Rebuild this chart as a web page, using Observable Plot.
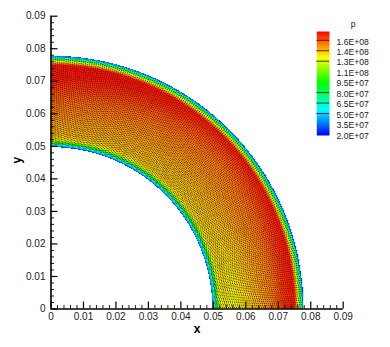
<!DOCTYPE html>
<html>
<head>
<meta charset="utf-8">
<script src="https://cdn.jsdelivr.net/npm/d3@7"></script>
<script src="https://cdn.jsdelivr.net/npm/@observablehq/plot@0.6"></script>
<style>
html,body{margin:0;padding:0;background:#fff}
#wrap{position:relative;width:390px;height:347px;overflow:hidden}
#wrap svg{position:absolute;left:0;top:0;background:transparent}
</style>
</head>
<body>
<div id="wrap"></div>
<script>
// Pressure field: one row per angle (degrees), one column per radius (MPa)
const radii = [0.0497,0.0503,0.0510,0.0518,0.0535,0.0560,0.0600,0.0640,0.0680,0.0720,0.0750,0.0760,0.0766,0.0772,0.0778];
const angles = [0,10,20,30,40,50,60,70,80,90];
const pressure = [
  [24,56,98,129,133,130,135,143,150,161,166,138,105,62,24],
  [24,56,98,131,136,134,139,145,151,162,166,138,105,62,24],
  [24,56,98,133,137,137,141,147,152,161,166,138,105,62,24],
  [24,56,98,133,138,140,143,148,152,159,166,138,105,62,24],
  [24,56,98,133,138,140,144,148,151,158,166,138,105,62,24],
  [24,56,98,133,139,141,145,149,153,160,166,138,105,62,24],
  [24,56,98,133,140,142,146,150,155,163,166,138,105,62,24],
  [24,56,98,133,140,143,147,152,158,165,167,138,105,62,24],
  [24,56,96,133,141,144,148,153,160,166,167,138,103,62,24],
  [24,56,96,133,141,144,149,154,161,166,165,136,101,60,24]
];
// Mesh nodes carrying the velocity vectors
const meshRadii = [0.0505,0.0511,0.0517,0.0523,0.0529,0.0535,0.0541,0.0547,0.0553,0.0559,0.0565,0.0571,0.0577,0.0583,0.0589,0.0595,0.0601,0.0607,0.0613,0.0619,0.0625,0.0631,0.0637,0.0643,0.0649,0.0655,0.0661,0.0667,0.0673,0.0679,0.0685,0.0691,0.0697,0.0703,0.0709,0.0715,0.0721,0.0727,0.0733,0.0739,0.0745,0.0751,0.0757,0.0763,0.0769,0.0775];
const meshRadiiShifted = [0.0508,0.0514,0.0520,0.0526,0.0532,0.0538,0.0544,0.0550,0.0556,0.0562,0.0568,0.0574,0.0580,0.0586,0.0592,0.0598,0.0604,0.0610,0.0616,0.0622,0.0628,0.0634,0.0640,0.0646,0.0652,0.0658,0.0664,0.0670,0.0676,0.0682,0.0688,0.0694,0.0700,0.0706,0.0712,0.0718,0.0724,0.0730,0.0736,0.0742,0.0748,0.0754,0.0760,0.0766,0.0772];
const meshAnglesA = [0.5,2.5,4.5,6.5,8.5,10.5,12.5,14.5,16.5,18.5,20.5,22.5,24.5,26.5,28.5,30.5,32.5,34.5,36.5,38.5,40.5,42.5,44.5,46.5,48.5,50.5,52.5,54.5,56.5,58.5,60.5,62.5,64.5,66.5,68.5,70.5,72.5,74.5,76.5,78.5,80.5,82.5,84.5,86.5,88.5];
const meshAnglesB = [1.5,3.5,5.5,7.5,9.5,11.5,13.5,15.5,17.5,19.5,21.5,23.5,25.5,27.5,29.5,31.5,33.5,35.5,37.5,39.5,41.5,43.5,45.5,47.5,49.5,51.5,53.5,55.5,57.5,59.5,61.5,63.5,65.5,67.5,69.5,71.5,73.5,75.5,77.5,79.5,81.5,83.5,85.5,87.5,89.5];
const meshAnglesC = [1,3,5,7,9,11,13,15,17,19,21,23,25,27,29,31,33,35,37,39,41,43,45,47,49,51,53,55,57,59,61,63,65,67,69,71,73,75,77,79,81,83,85,87,89];
const meshAnglesD = [2,4,6,8,10,12,14,16,18,20,22,24,26,28,30,32,34,36,38,40,42,44,46,48,50,52,54,56,58,60,62,64,66,68,70,72,74,76,78,80,82,84,86,88];
// Axes
const majorTicks = [0,0.01,0.02,0.03,0.04,0.05,0.06,0.07,0.08,0.09];
const minorTicks = [0.002,0.004,0.006,0.008,0.012,0.014,0.016,0.018,0.022,0.024,0.026,0.028,0.032,0.034,0.036,0.038,0.042,0.044,0.046,0.048,0.052,0.054,0.056,0.058,0.062,0.064,0.066,0.068,0.072,0.074,0.076,0.078,0.082,0.084,0.086,0.088];
// Legend
const legendValues = [1.55e8,1.4e8,1.25e8,1.1e8,9.5e7,8.0e7,6.5e7,5.0e7,3.5e7,2.0e7];
const legendLabels = ["1.6E+08","1.4E+08","1.3E+08","1.1E+08","9.5E+07","8.0E+07","6.5E+07","5.0E+07","3.5E+07","2.0E+07"];
const legendLines = [1.55e8,1.4e8,1.25e8,8.0e7,6.5e7,5.0e7];
const colorDomain = [2e7,5.7e7,9.5e7,1.32e8,1.69e8];
const colorRange = ["#0000ff","#00ffff","#00ff00","#ffff00","#ff0000"];

const FONT = "Liberation Sans, Arial, sans-serif";
const color = {type:"linear",domain:colorDomain,range:colorRange,clamp:true};

function bracket(list,v){
  let i = d3.bisectRight(list,v)-1;
  i = Math.max(0,Math.min(list.length-2,i));
  return [i,(v-list[i])/(list[i+1]-list[i])];
}
function pressureAt(x,y){
  const r = Math.hypot(x,y), a = Math.atan2(y,x)*180/Math.PI;
  if (r<radii[0]||r>radii[radii.length-1]) return NaN;
  const [i,u] = bracket(angles,a), [j,v] = bracket(radii,r);
  const p = pressure;
  return 1e6*((1-u)*((1-v)*p[i][j]+v*p[i][j+1])+u*((1-v)*p[i+1][j]+v*p[i+1][j+1]));
}
const node = (a,r)=>({a,r});
const meshNodes = [
  ...d3.cross(meshAnglesA,meshRadii,node),
  ...d3.cross(meshAnglesB,meshRadiiShifted,node),
  ...d3.cross(meshAnglesC,meshRadiiShifted,node),
  ...d3.cross(meshAnglesD,meshRadii,node)
];
const px = d=>d.r*Math.cos(d.a*Math.PI/180), py = d=>d.r*Math.sin(d.a*Math.PI/180);

const tickLabel = d=>d===0?"0":d.toFixed(2);
const main = Plot.plot({
  width:390,height:347,
  marginLeft:50.5,marginRight:47.3,marginTop:15.7,marginBottom:38.5,
  style:{fontFamily:FONT,fontSize:"10px",color:"#222",background:"transparent"},
  x:{domain:[0,0.09],label:null},
  y:{domain:[0,0.09],label:null},
  color,
  marks:[
    Plot.raster({x1:0,x2:0.09,y1:0,y2:0.09,pixelSize:1,fill:pressureAt}),
    Plot.dot(meshNodes,{x:px,y:py,r:0.58,fill:"#000",fillOpacity:0.8,stroke:"none"}),
    Plot.axisX(minorTicks,{tickSize:-3.5,tickFormat:()=>"",strokeWidth:0.9,stroke:"#000"}),
    Plot.axisY(minorTicks,{tickSize:-3.5,tickFormat:()=>"",strokeWidth:0.9,stroke:"#000"}),
    Plot.axisX(majorTicks,{tickSize:-7,tickPadding:10.5,tickFormat:tickLabel,strokeWidth:1.2,stroke:"#000",fontSize:10,label:null}),
    Plot.axisY(majorTicks,{tickSize:-7,tickPadding:12.5,tickFormat:tickLabel,strokeWidth:1.2,stroke:"#000",fontSize:10,label:null}),
    Plot.ruleX([0],{stroke:"#000",strokeWidth:1.6}),
    Plot.ruleY([0],{stroke:"#000",strokeWidth:1.6}),
    Plot.text(["x"],{frameAnchor:"bottom",dx:0,dy:23.5,text:d=>d,fontWeight:"bold",fontSize:12,fill:"#000"}),
    Plot.text(["y"],{frameAnchor:"left",dx:-33.5,dy:1,text:d=>d,rotate:-90,fontWeight:"bold",fontSize:12,fill:"#000"})
  ]
});

const legend = Plot.plot({
  width:390,height:347,
  marginLeft:316.3,marginRight:61,marginTop:31,marginBottom:212,
  style:{fontFamily:FONT,fontSize:"8.6px",color:"#222",background:"transparent"},
  x:{domain:[0,1],axis:null},
  y:{domain:[2e7,1.69e8],axis:null},
  color,
  marks:[
    Plot.raster({x1:0,x2:1,y1:2e7,y2:1.69e8,pixelSize:1,fill:(x,y)=>y}),
    Plot.ruleY(legendLines,{stroke:"#000",strokeOpacity:0.75,strokeWidth:1,dy:-1}),
    Plot.text(legendLabels,{x:()=>1,y:(d,i)=>legendValues[i],text:d=>d,dx:7,dy:0.5,textAnchor:"start",fill:"#222",fontSize:8.6}),
    Plot.text(["p"],{frameAnchor:"top-left",dx:34,dy:-11,text:d=>d,fontSize:8.6,fill:"#222"})
  ]
});

document.getElementById("wrap").append(main,legend);
</script>
</body>
</html>
